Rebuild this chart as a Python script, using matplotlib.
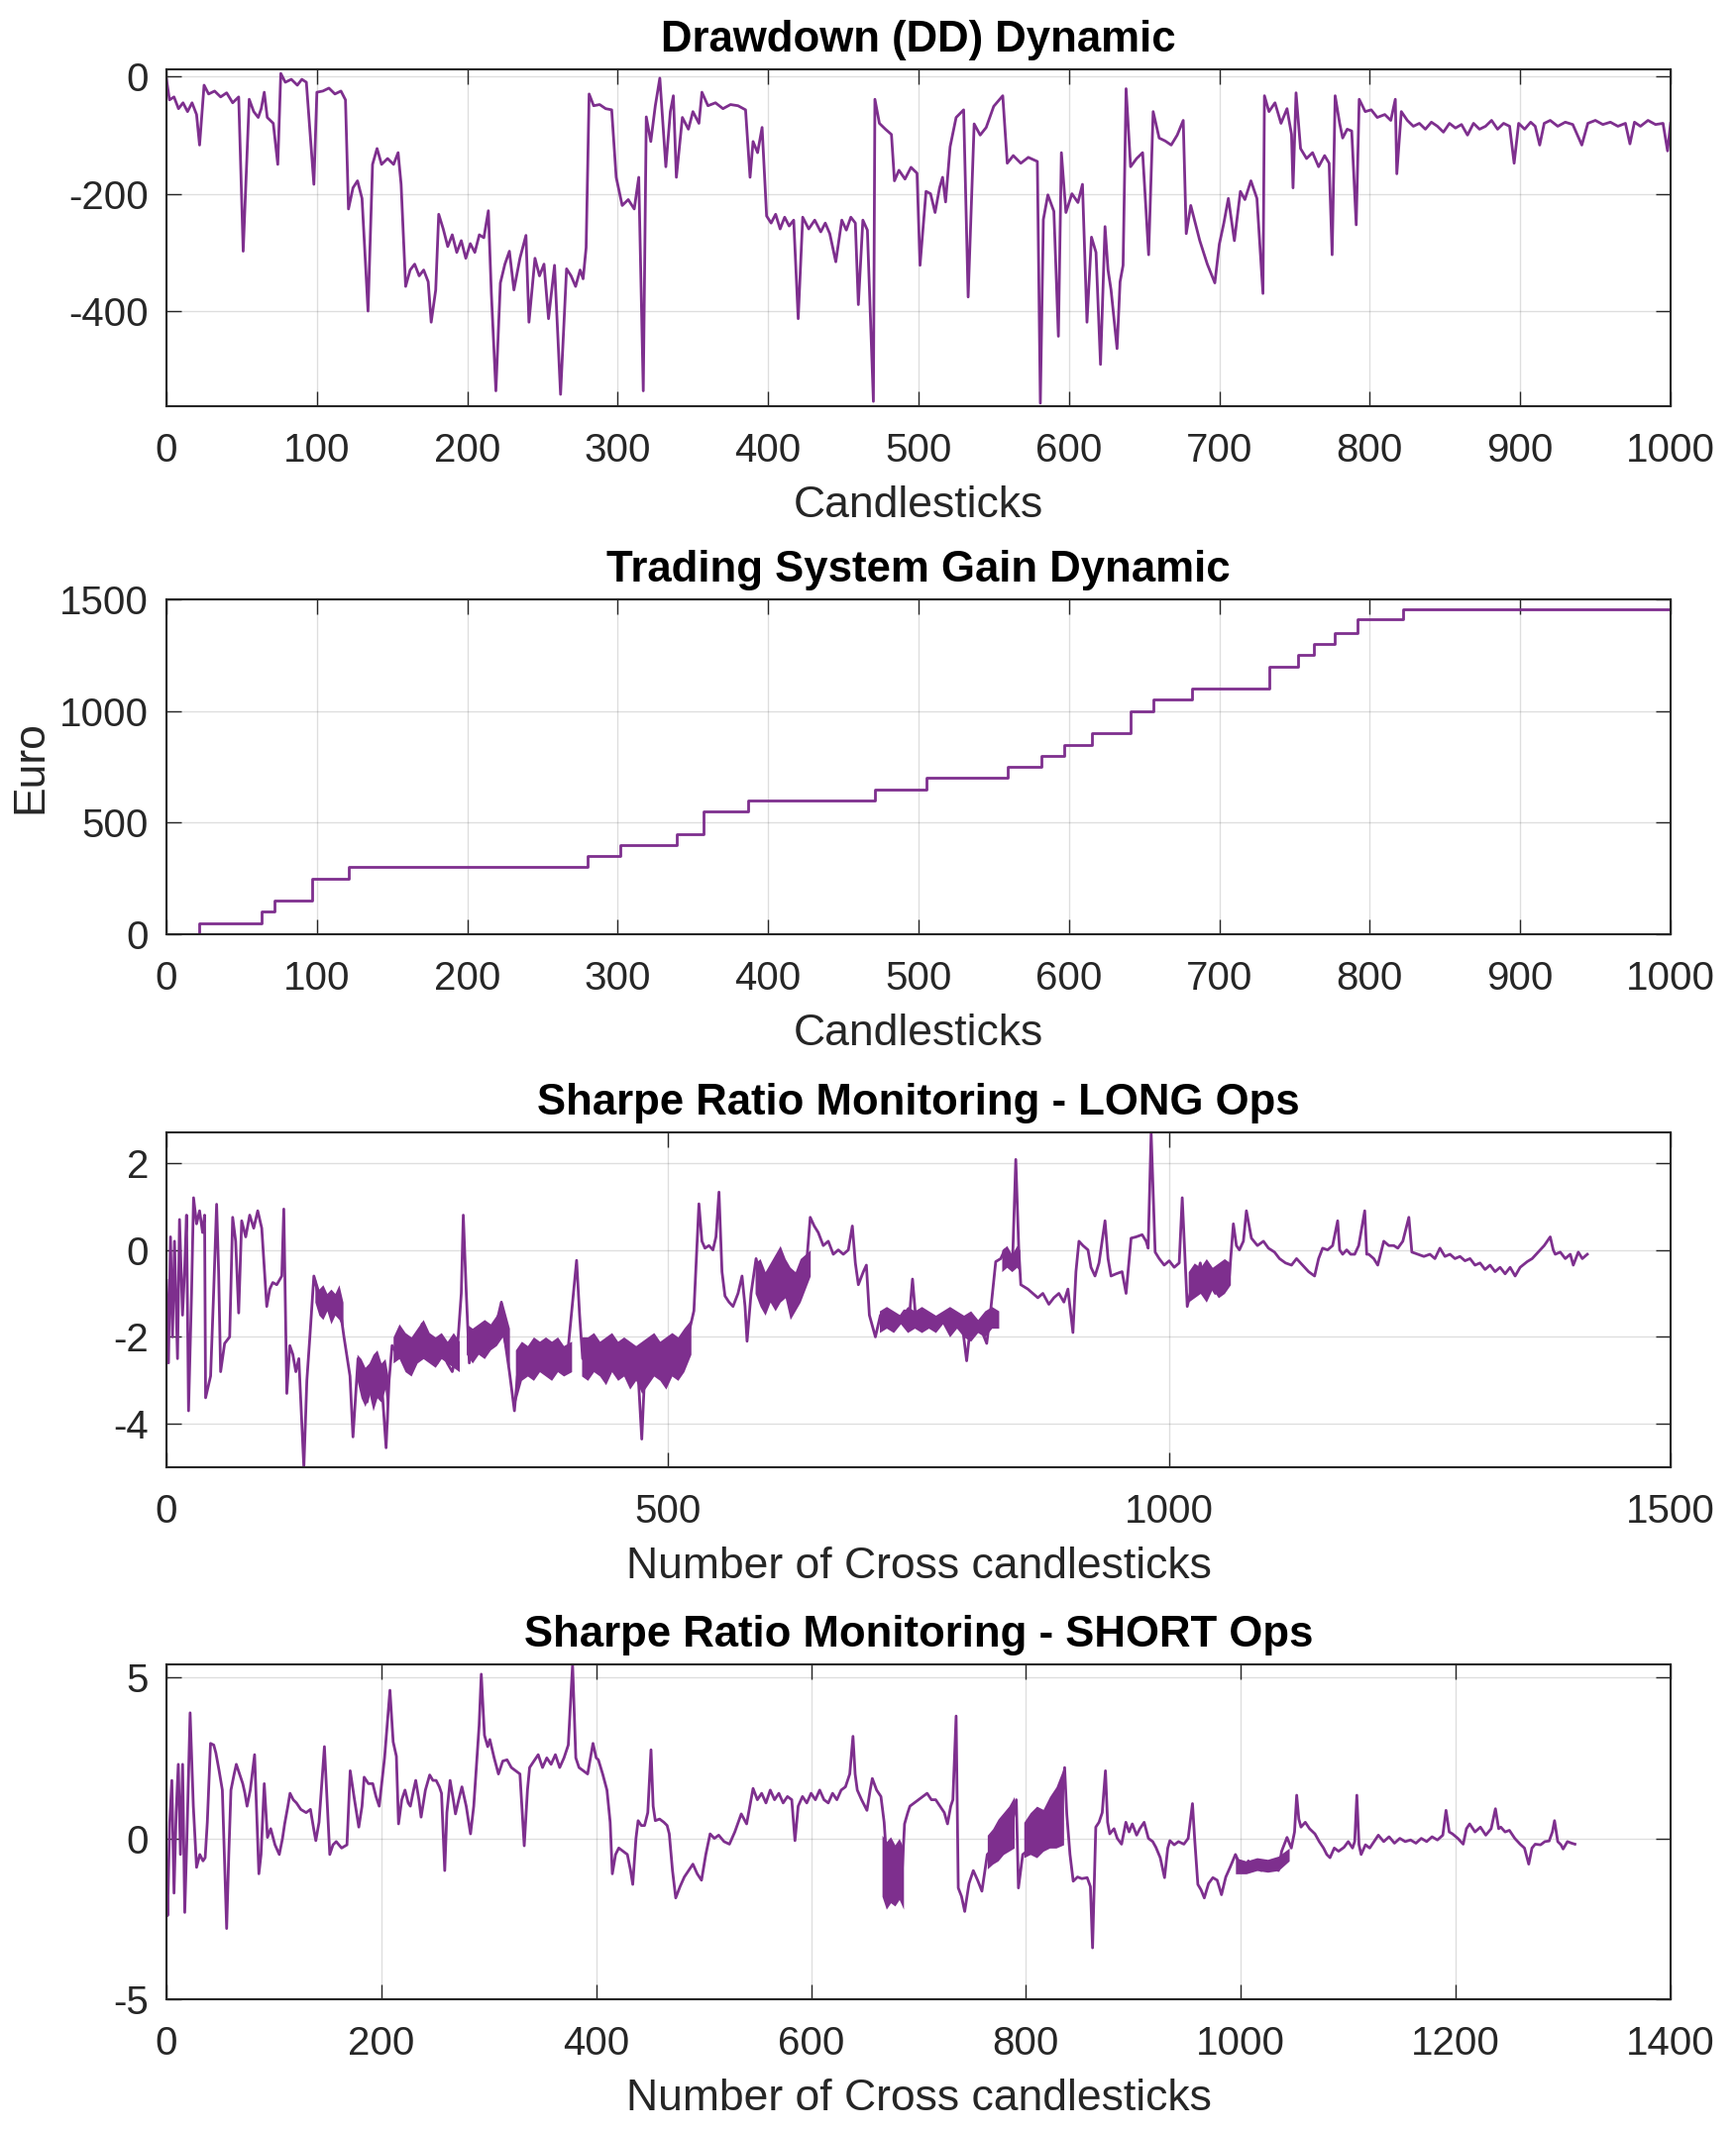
import numpy as np
import matplotlib
matplotlib.use("Agg")
import matplotlib.pyplot as plt

# Colors (MATLAB-like)
PURPLE = "#7E2F8E"
DARK = "#262626"

plt.rcParams["font.family"] = ["Liberation Sans", "DejaVu Sans"]
plt.rcParams["axes.unicode_minus"] = False

# ---------------------------------------------------------------------------
# Panel 1: Drawdown dynamic
# ---------------------------------------------------------------------------
dd_x = [0, 2, 5, 8, 11, 14, 17, 20, 22, 25, 28, 32, 36, 40, 44, 48, 51, 55, 58, 61,
        63, 65, 67, 71, 74, 76, 79, 83, 87, 90, 93, 98, 100, 104, 108, 112, 116, 119, 121, 124,
        127, 130, 134, 137, 140, 143, 147, 151, 154, 156, 159, 162, 165, 168, 171, 174, 176, 179, 181, 184,
        187, 190, 193, 196, 199, 202, 205, 208, 211, 214, 216, 219, 222, 225, 228, 231, 235, 239, 241, 245,
        248, 251, 254, 258, 262, 266, 269, 272, 275, 277, 279, 281, 284, 288, 292, 296, 299, 303, 307, 311,
        314, 317, 319, 322, 325, 328, 332, 335, 337, 339, 343, 347, 350, 354, 356, 360, 365, 370, 375, 380,
        385, 388, 390, 393, 396, 399, 402, 405, 408, 411, 414, 417, 420, 423, 427, 431, 435, 438, 441, 445,
        449, 452, 455, 458, 460, 463, 466, 470, 471, 474, 478, 482, 484, 487, 491, 495, 499, 501, 505, 508,
        511, 514, 516, 518, 521, 525, 530, 533, 537, 541, 545, 550, 556, 559, 563, 568, 573, 579, 581, 583,
        586, 590, 593, 595, 598, 602, 606, 609, 612, 615, 618, 621, 624, 626, 628, 632, 634, 636, 638, 641,
        645, 649, 653, 656, 660, 664, 668, 672, 676, 678, 681, 684, 687, 692, 697, 700, 703, 706, 710, 714,
        717, 721, 725, 729, 730, 733, 737, 741, 745, 748, 749, 751, 754, 758, 762, 766, 770, 773, 775, 777,
        780, 782, 785, 788, 791, 793, 797, 801, 805, 810, 814, 817, 818, 821, 825, 829, 833, 837, 841, 845,
        849, 853, 857, 861, 865, 869, 873, 877, 881, 885, 889, 893, 896, 899, 903, 907, 910, 913, 916, 920,
        925, 930, 935, 941, 945, 950, 955, 960, 965, 970, 973, 976, 980, 985, 990, 995, 998, 1000]
dd_y = [-5, -40, -35, -55, -45, -60, -45, -65, -117, -15, -30, -25, -35, -28, -45, -35, -298, -39, -60, -70,
        -55, -27, -70, -80, -150, 5, -10, -5, -15, -5, -10, -184, -27, -25, -20, -30, -25, -40, -226, -190,
        -178, -208, -400, -150, -123, -150, -140, -150, -130, -184, -358, -330, -320, -340, -330, -350, -419, -364, -235, -260,
        -290, -270, -300, -280, -310, -285, -300, -270, -275, -229, -370, -536, -352, -320, -298, -364, -310, -271, -419, -310,
        -340, -320, -413, -322, -542, -328, -340, -358, -330, -345, -292, -30, -50, -48, -55, -57, -172, -220, -210, -226,
        -172, -536, -69, -111, -50, -3, -154, -60, -33, -172, -70, -90, -60, -80, -27, -50, -45, -55, -48, -50,
        -57, -172, -111, -130, -87, -238, -250, -235, -260, -240, -255, -245, -413, -240, -260, -245, -265, -250, -268, -316,
        -245, -262, -240, -250, -389, -245, -262, -554, -39, -80, -90, -99, -178, -160, -175, -155, -165, -322, -196, -200,
        -232, -190, -172, -214, -120, -70, -57, -376, -81, -100, -87, -51, -33, -148, -135, -148, -138, -145, -557, -244,
        -202, -230, -443, -130, -232, -200, -215, -184, -419, -274, -300, -491, -256, -330, -364, -464, -350, -322, -21, -154,
        -140, -130, -304, -60, -105, -110, -117, -100, -75, -268, -220, -250, -280, -320, -352, -286, -250, -208, -280, -196,
        -210, -178, -208, -370, -33, -60, -45, -80, -55, -99, -190, -28, -123, -140, -130, -154, -135, -148, -304, -33,
        -80, -105, -90, -93, -253, -39, -60, -57, -70, -65, -75, -39, -166, -60, -75, -85, -80, -90, -78, -85,
        -95, -80, -88, -82, -100, -80, -90, -85, -75, -90, -80, -85, -148, -80, -90, -78, -85, -117, -80, -75,
        -85, -78, -82, -117, -80, -75, -82, -78, -85, -80, -115, -78, -85, -75, -82, -80, -127, -80]

# ---------------------------------------------------------------------------
# Panel 2: Trading system gain (step levels)
# ---------------------------------------------------------------------------
gain_x = [0, 22, 63, 72, 97, 121, 280, 302, 339, 357, 387, 471, 505, 559, 582, 597,
          615, 641, 656, 682, 733, 752, 763, 777, 792, 822, 1000]
gain_y = [0, 50, 100, 150, 250, 300, 350, 400, 450, 550, 600, 650, 700, 750, 800, 850,
          900, 1000, 1050, 1100, 1200, 1250, 1300, 1350, 1410, 1455, 1455]

# ---------------------------------------------------------------------------
# Panel 3: Sharpe ratio LONG ops
# ---------------------------------------------------------------------------
long_x = [0, 2, 4, 6, 8, 11, 13, 16, 18, 20, 22, 25, 27, 30, 33, 36, 38, 39, 44, 47,
          50, 52, 54, 58, 63, 66, 69, 72, 75, 79, 83, 87, 91, 95, 100, 103, 106, 110, 115, 117,
          120, 123, 126, 129, 132, 137, 140, 143, 147, 151, 155, 160, 165, 170, 174, 177, 183, 186, 191, 195,
          200, 205, 210, 215, 219, 222, 225, 230, 235, 240, 245, 250, 255, 260, 265, 270, 275, 280, 285, 290,
          294, 296, 299, 302, 305, 310, 315, 320, 325, 330, 334, 337, 342, 347, 350, 355, 360, 365, 370, 375,
          380, 385, 390, 395, 400, 405, 409, 412, 415, 420, 425, 430, 435, 440, 445, 450, 455, 460, 465, 470,
          474, 477, 482, 487, 492, 497, 502, 507, 512, 517, 522, 526, 531, 534, 537, 541, 545, 548, 551, 554,
          557, 561, 565, 570, 574, 577, 579, 583, 588, 592, 597, 602, 607, 612, 617, 622, 627, 632, 637, 642,
          646, 650, 655, 660, 665, 670, 675, 680, 684, 687, 690, 695, 698, 701, 707, 712, 718, 724, 730, 736,
          741, 744, 747, 752, 758, 764, 770, 776, 782, 788, 794, 798, 802, 807, 812, 818, 821, 827, 832, 836,
          840, 844, 847, 850, 852, 859, 864, 869, 874, 880, 885, 890, 895, 899, 904, 907, 910, 914, 919, 922,
          926, 930, 936, 939, 942, 947, 953, 957, 962, 967, 973, 977, 979, 982, 986, 990, 995, 1000, 1005, 1010,
          1013, 1018, 1022, 1027, 1031, 1036, 1041, 1046, 1050, 1055, 1060, 1064, 1067, 1070, 1074, 1077, 1082, 1088, 1094, 1099,
          1105, 1110, 1116, 1122, 1127, 1133, 1139, 1145, 1149, 1153, 1158, 1163, 1168, 1170, 1173, 1177, 1181, 1185, 1189, 1195,
          1197, 1199, 1204, 1208, 1214, 1219, 1224, 1228, 1233, 1239, 1242, 1248, 1254, 1260, 1265, 1270, 1275, 1280, 1285, 1290,
          1295, 1300, 1305, 1310, 1315, 1320, 1325, 1330, 1335, 1340, 1345, 1350, 1357, 1362, 1368, 1374, 1380, 1383, 1385, 1390,
          1395, 1400, 1403, 1408, 1412, 1417]
long_y = [-0.7, -2.6, 0.3, -2.0, 0.2, -2.5, 0.7, -1.5, -0.5, 0.8, -3.7, -1.0, 1.2, 0.6, 0.9, 0.4, 0.8, -3.4, -2.9, -1.0,
          1.05, -0.5, -2.8, -2.15, -2.0, 0.75, 0.2, -1.45, 0.67, 0.3, 0.8, 0.5, 0.9, 0.5, -1.3, -0.9, -0.75, -0.8, -0.6, 0.94,
          -3.3, -2.2, -2.4, -2.8, -2.5, -5.0, -3.0, -2.0, -0.6, -1.0, -1.4, -1.2, -1.5, -1.1, -1.5, -2.0, -2.9, -4.3, -2.5, -3.0,
          -3.5, -3.0, -2.7, -3.2, -4.55, -3.0, -2.2, -2.4, -2.0, -2.3, -2.6, -2.3, -1.7, -2.5, -2.3, -2.6, -2.3, -2.6, -2.8, -2.3,
          -1.0, 0.8, -1.0, -2.6, -2.0, -2.2, -1.9, -2.0, -1.8, -1.6, -1.2, -2.0, -2.8, -3.7, -2.9, -2.7, -2.6, -2.8, -2.5, -2.7,
          -2.6, -2.7, -2.6, -2.6, -2.4, -1.2, -0.24, -1.5, -2.5, -2.4, -2.7, -2.5, -2.4, -2.6, -2.5, -2.7, -2.5, -2.6, -2.8, -2.7,
          -4.35, -2.8, -2.6, -2.5, -2.7, -2.4, -2.6, -2.5, -2.4, -2.2, -1.8, -1.4, 1.06, 0.2, 0.04, 0.1, 0.0, 0.3, 1.33, -0.5,
          -1.06, -1.2, -1.3, -1.0, -0.6, -1.3, -2.1, -1.0, -0.2, -0.6, -0.9, -0.8, -1.0, -0.6, -1.0, -0.9, -1.2, -1.1, -0.7, 0.75,
          0.55, 0.4, 0.1, 0.2, -0.1, 0.0, -0.1, 0.0, 0.55, -0.3, -0.8, -0.5, -0.35, -1.5, -2.0, -1.5, -1.6, -1.5, -1.6, -1.4,
          -1.5, -0.67, -1.5, -1.6, -1.5, -1.7, -1.6, -1.5, -1.7, -1.6, -1.8, -2.55, -1.7, -1.6, -1.8, -2.15, -1.6, -0.27, -0.2, 0.0,
          -0.3, -0.1, 2.08, 0.0, -0.8, -0.9, -1.0, -1.1, -1.0, -1.25, -1.1, -1.0, -1.2, -0.9, -1.9, -0.5, 0.2, 0.1, 0.0, -0.4,
          -0.6, -0.3, 0.67, -0.2, -0.6, -0.55, -0.5, -1.0, 0.27, 0.3, 0.35, 0.2, 0.04, 2.7, -0.05, -0.2, -0.35, -0.25, -0.4, -0.3,
          1.2, -1.3, -0.9, -0.7, -0.3, -0.9, -0.8, -1.0, -0.4, -0.8, -0.6, 0.6, 0.1, 0.0, 0.2, 0.9, 0.27, 0.1, 0.2, 0.04,
          -0.05, -0.2, -0.3, -0.35, -0.2, -0.35, -0.5, -0.6, -0.2, 0.04, 0.0, 0.1, 0.67, 0.0, -0.1, 0.0, -0.1, -0.1, 0.1, 0.9,
          -0.1, -0.1, -0.2, -0.35, 0.2, 0.1, 0.1, 0.04, 0.2, 0.75, -0.05, -0.1, -0.15, -0.1, -0.2, 0.04, -0.15, -0.1, -0.2, -0.15,
          -0.25, -0.2, -0.35, -0.3, -0.45, -0.35, -0.5, -0.4, -0.55, -0.4, -0.6, -0.4, -0.27, -0.2, -0.05, 0.1, 0.3, 0.0, -0.1, -0.05,
          -0.2, -0.1, -0.35, -0.05, -0.2, -0.1]

# dense (solid-looking) stretches: x, lower envelope, upper envelope
long_band_x = [[148, 152, 156, 160, 164, 168, 172, 176],
               [190, 194, 198, 202, 206, 210, 214, 218, 221],
               [226, 232, 238, 244, 250, 256, 262, 268, 274, 280, 286, 292],
               [299, 305, 311, 317, 323, 329, 335, 342],
               [348, 354, 360, 366, 372, 378, 384, 390, 396, 404],
               [414, 420, 426, 432, 438, 444, 450, 456, 462, 468, 474, 480, 486, 492, 498, 504, 510, 516, 523],
               [587, 592, 597, 602, 607, 612, 617, 622, 627, 632, 637, 642],
               [711, 718, 725, 732, 739, 746, 753, 760, 767, 774, 781, 788, 795, 802, 809, 816, 823, 830],
               [833, 838, 843, 848, 851],
               [1019, 1025, 1031, 1037, 1043, 1049, 1055, 1061]]
long_band_lo = [[-1.2, -1.5, -1.6, -1.4, -1.7, -1.5, -1.6, -1.8],
                [-3.0, -3.4, -3.6, -3.3, -3.7, -3.4, -3.5, -3.2, -4.0],
                [-2.6, -2.5, -2.8, -2.9, -2.6, -2.5, -2.6, -2.7, -2.5, -2.6, -2.7, -2.8],
                [-2.4, -2.6, -2.4, -2.5, -2.3, -2.2, -2.0, -2.7],
                [-3.5, -3.0, -2.9, -3.0, -2.8, -2.9, -3.0, -2.8, -2.9, -2.8],
                [-2.9, -3.0, -2.8, -2.9, -3.1, -2.8, -3.0, -2.9, -3.2, -3.0, -3.3, -3.1, -2.9, -3.0, -3.2, -2.9, -3.0, -2.8, -2.4],
                [-1.0, -1.3, -1.5, -1.2, -1.4, -1.2, -1.1, -1.6, -1.4, -1.2, -0.9, -0.6],
                [-1.9, -1.8, -1.9, -1.7, -1.9, -1.8, -1.9, -1.8, -1.9, -1.7, -2.0, -1.8, -2.0, -2.1, -1.9, -2.0, -1.8, -1.8],
                [-0.5, -0.4, -0.5, -0.4, -0.5],
                [-1.2, -1.1, -1.0, -1.2, -0.9, -1.1, -1.0, -0.8]]
long_band_hi = [[-0.6, -0.9, -0.8, -1.0, -0.9, -1.0, -0.8, -1.2],
                [-2.4, -2.5, -2.7, -2.6, -2.4, -2.3, -2.6, -2.5, -2.9],
                [-2.0, -1.7, -1.9, -2.0, -1.8, -1.6, -1.9, -2.0, -1.9, -2.1, -1.9, -2.1],
                [-1.7, -1.8, -1.7, -1.6, -1.7, -1.5, -1.2, -1.8],
                [-2.3, -2.1, -2.2, -2.0, -2.1, -2.0, -2.1, -2.0, -2.2, -2.1],
                [-2.0, -2.0, -1.9, -2.1, -2.0, -1.9, -2.1, -2.0, -2.1, -2.2, -2.1, -2.0, -1.9, -2.1, -2.0, -1.9, -2.0, -1.8, -1.6],
                [-0.3, -0.2, -0.5, -0.3, -0.1, 0.1, -0.2, -0.4, -0.5, -0.2, -0.1, 0.0],
                [-1.4, -1.3, -1.4, -1.5, -1.3, -1.4, -1.3, -1.4, -1.5, -1.4, -1.3, -1.4, -1.5, -1.4, -1.6, -1.4, -1.3, -1.4],
                [0.0, 0.1, -0.1, 0.1, 0.0],
                [-0.5, -0.3, -0.4, -0.2, -0.4, -0.3, -0.2, -0.3]]

# ---------------------------------------------------------------------------
# Panel 4: Sharpe ratio SHORT ops
# ---------------------------------------------------------------------------
short_x = [0, 1, 3, 5, 7, 9, 11, 13, 15, 17, 19, 22, 25, 28, 31, 34, 36, 38, 41, 44,
           46, 49, 52, 56, 58, 60, 63, 65, 68, 71, 73, 75, 78, 82, 86, 88, 91, 94, 97, 101,
           105, 108, 110, 113, 115, 118, 121, 125, 130, 134, 137, 139, 142, 147, 150, 152, 155, 158, 163, 168,
           171, 175, 179, 182, 184, 188, 192, 195, 198, 203, 208, 211, 214, 216, 219, 222, 225, 227, 230, 232,
           235, 237, 241, 245, 248, 251, 254, 256, 259, 261, 264, 267, 269, 272, 275, 279, 283, 286, 288, 291,
           293, 296, 299, 301, 305, 309, 313, 317, 321, 325, 329, 333, 336, 338, 342, 346, 350, 354, 358, 362,
           366, 370, 374, 378, 381, 384, 388, 392, 397, 400, 402, 406, 410, 413, 415, 418, 421, 425, 429, 432,
           434, 437, 439, 442, 445, 448, 451, 453, 455, 459, 463, 466, 468, 471, 474, 478, 482, 486, 490, 494,
           498, 502, 506, 510, 514, 519, 524, 529, 535, 540, 543, 546, 550, 554, 558, 562, 566, 570, 574, 578,
           582, 585, 588, 592, 596, 600, 604, 608, 612, 616, 620, 624, 628, 632, 636, 639, 641, 643, 647, 652,
           655, 657, 661, 665, 668, 671, 676, 680, 684, 687, 690, 692, 696, 700, 704, 708, 712, 716, 720, 724,
           727, 730, 732, 735, 737, 740, 743, 747, 751, 755, 759, 764, 770, 776, 782, 788, 791, 793, 797, 805,
           815, 825, 832, 836, 838, 841, 844, 848, 852, 857, 860, 862, 865, 868, 871, 874, 876, 878, 882, 885,
           889, 893, 896, 899, 903, 906, 910, 914, 918, 921, 925, 929, 932, 934, 938, 942, 947, 951, 955, 957,
           960, 963, 966, 970, 974, 978, 982, 986, 990, 995, 999, 1003, 1007, 1011, 1015, 1019, 1023, 1027, 1031, 1035,
           1038, 1043, 1047, 1050, 1052, 1054, 1056, 1060, 1064, 1069, 1073, 1077, 1080, 1083, 1087, 1091, 1096, 1100, 1104, 1106,
           1108, 1110, 1112, 1116, 1120, 1124, 1128, 1133, 1138, 1143, 1148, 1153, 1158, 1163, 1168, 1173, 1178, 1183, 1188, 1191,
           1194, 1197, 1202, 1207, 1210, 1213, 1218, 1223, 1228, 1233, 1237, 1240, 1242, 1246, 1250, 1255, 1260, 1264, 1268, 1271,
           1274, 1279, 1283, 1287, 1290, 1292, 1295, 1298, 1300, 1304, 1308, 1311]
short_y = [-1.0, -2.4, 0.5, 1.8, -1.7, 0.8, 2.3, -0.5, 2.3, -2.3, 0.0, 3.9, 1.0, -0.9, -0.5, -0.7, -0.6, 0.5, 2.95, 2.9,
           2.65, 2.1, 1.5, -2.8, -0.5, 1.5, 2.0, 2.3, 2.0, 1.7, 1.4, 1.0, 1.5, 2.6, -1.1, -0.5, 1.7, 0.03, 0.3, -0.2,
           -0.5, 0.0, 0.45, 1.0, 1.4, 1.2, 1.1, 0.9, 0.8, 0.9, 0.3, -0.07, 0.5, 2.85, 0.8, -0.5, -0.2, -0.1, -0.3, -0.2,
           2.1, 1.2, 0.35, 1.0, 1.9, 1.7, 1.7, 1.3, 1.0, 2.5, 4.6, 3.0, 2.55, 0.45, 1.2, 1.5, 1.1, 1.0, 1.5, 1.8,
           1.2, 0.66, 1.5, 1.97, 1.8, 1.8, 1.6, 1.4, -1.0, 0.8, 1.8, 1.2, 0.76, 1.2, 1.6, 1.0, 0.14, 1.0, 2.0, 3.5,
           5.1, 3.2, 2.85, 3.07, 2.5, 2.0, 2.4, 2.44, 2.2, 2.1, 2.0, -0.23, 1.5, 2.2, 2.4, 2.6, 2.2, 2.5, 2.3, 2.6,
           2.2, 2.5, 2.9, 5.4, 2.5, 2.2, 2.1, 2.0, 2.95, 2.5, 2.44, 2.0, 1.5, 0.5, -1.1, -0.5, -0.3, -0.4, -0.5, -1.0,
           -1.43, 0.0, 0.55, 0.4, 0.4, 0.8, 2.75, 1.0, 0.55, 0.6, 0.5, 0.4, 0.14, -1.0, -1.85, -1.5, -1.2, -1.0, -0.8, -1.1,
           -1.3, -0.5, 0.14, 0.0, 0.1, -0.1, -0.18, 0.2, 0.76, 0.45, 1.0, 1.55, 1.2, 1.4, 1.1, 1.5, 1.2, 1.4, 1.1, 1.3,
           1.2, -0.07, 1.0, 1.3, 1.1, 1.4, 1.2, 1.5, 1.2, 1.1, 1.4, 1.2, 1.5, 1.6, 2.0, 3.17, 2.0, 1.5, 1.2, 0.87,
           1.5, 1.86, 1.5, 1.3, 0.5, -1.0, -1.2, -0.9, -1.5, 0.45, 0.8, 1.0, 1.1, 1.2, 1.3, 1.4, 1.2, 1.2, 1.0, 0.8,
           0.45, 1.0, 1.2, 3.8, -1.54, -1.8, -2.27, -1.4, -1.0, -1.3, -1.64, -0.5, -0.3, 0.0, 0.3, 0.6, 1.2, -1.54, -0.5, -0.3,
           0.0, 0.3, 0.6, 2.2, 0.76, -0.5, -1.33, -1.2, -1.25, -1.22, -1.5, -3.4, 0.35, 0.5, 0.8, 2.1, 0.5, 0.14, 0.3, 0.0,
           -0.18, 0.5, 0.2, 0.45, 0.1, 0.3, 0.5, 0.0, -0.1, -0.28, -0.6, -1.22, -0.3, -0.07, -0.2, -0.1, -0.18, 0.0, 1.08, 0.0,
           -1.43, -1.6, -1.85, -1.4, -1.22, -1.3, -1.75, -1.2, -0.9, -0.5, -0.8, -1.0, -0.7, -0.9, -0.8, -1.0, -0.7, -0.9, -0.75, -1.0,
           -0.4, 0.03, -0.3, 0.2, 1.34, 0.6, 0.35, 0.5, 0.3, 0.14, -0.1, -0.3, -0.5, -0.6, -0.3, -0.4, -0.28, -0.1, -0.3, -0.1,
           1.34, -0.2, -0.5, -0.2, -0.3, -0.1, 0.1, -0.1, 0.05, -0.15, 0.0, -0.1, -0.05, -0.15, 0.0, -0.1, 0.05, -0.05, 0.1, 0.87,
           0.2, 0.14, 0.0, -0.18, 0.3, 0.45, 0.2, 0.35, 0.1, 0.3, 0.92, 0.3, 0.35, 0.2, 0.25, 0.0, -0.18, -0.3, -0.8, -0.3,
           -0.18, -0.2, -0.1, -0.08, 0.2, 0.55, -0.1, -0.2, -0.33, -0.1, -0.15, -0.18]

short_band_x = [[666, 670, 674, 678, 682, 686],
                [764, 769, 774, 779, 784, 789],
                [798, 804, 810, 816, 822, 828, 835],
                [995, 1005, 1015, 1025, 1035, 1045]]
short_band_lo = [[-1.8, -2.2, -2.0, -2.1, -1.9, -2.2],
                 [-0.95, -0.8, -0.7, -0.5, -0.4, -0.3],
                 [-0.6, -0.5, -0.6, -0.4, -0.3, -0.3, -0.2],
                 [-1.1, -1.1, -1.0, -1.05, -1.0, -0.7]]
short_band_hi = [[0.1, -0.1, 0.05, -0.2, 0.0, -0.3],
                 [0.1, 0.3, 0.6, 0.8, 1.0, 1.3],
                 [0.5, 0.8, 1.0, 0.9, 1.3, 1.6, 2.2],
                 [-0.6, -0.7, -0.6, -0.65, -0.55, -0.3]]


def style_ax(ax, title, xlabel, xlim, xticks, ylim, yticks):
    ax.set_xlim(*xlim)
    ax.set_ylim(*ylim)
    ax.set_xticks(xticks)
    ax.set_yticks(yticks)
    ax.set_title(title, fontsize=31.5, fontweight="bold", color="black", pad=13)
    ax.set_xlabel(xlabel, fontsize=32, color=DARK, labelpad=11)
    ax.grid(True, color=DARK, alpha=0.15, linewidth=1.0)
    ax.set_axisbelow(True)
    for spine in ax.spines.values():
        spine.set_color(DARK)
        spine.set_linewidth(1.5)
    ax.tick_params(axis="both", direction="in", top=True, right=True,
                   length=11, width=1.0, color=DARK, labelcolor=DARK, labelsize=29)
    ax.tick_params(axis="x", pad=19)
    ax.tick_params(axis="y", pad=13)


fig = plt.figure(figsize=(17.52, 21.54), dpi=100)
left, width = 0.0959, 0.8664
ax1 = fig.add_axes([left, 0.8097, width, 0.1578])
ax2 = fig.add_axes([left, 0.5622, width, 0.1569])
ax3 = fig.add_axes([left, 0.3124, width, 0.1569])
ax4 = fig.add_axes([left, 0.0631, width, 0.1569])

# Drawdown
ax1.plot(dd_x, dd_y, color=PURPLE, linewidth=2.0)
style_ax(ax1, "Drawdown (DD) Dynamic", "Candlesticks", (0, 1000), range(0, 1001, 100),
         (-562, 12), [-400, -200, 0])

# Gain
ax2.plot(gain_x, gain_y, color=PURPLE, linewidth=2.0, drawstyle="steps-post")
style_ax(ax2, "Trading System Gain Dynamic", "Candlesticks", (0, 1000), range(0, 1001, 100),
         (0, 1500), [0, 500, 1000, 1500])
ax2.set_ylabel("Euro", fontsize=32, color=DARK, labelpad=6)

# Sharpe LONG
ax3.plot(long_x, long_y, color=PURPLE, linewidth=2.0)
for bx, lo, hi in zip(long_band_x, long_band_lo, long_band_hi):
    ax3.fill_between(bx, lo, hi, color=PURPLE, linewidth=0)
style_ax(ax3, "Sharpe Ratio Monitoring - LONG Ops", "Number of Cross candlesticks",
         (0, 1500), [0, 500, 1000, 1500], (-5, 2.7), [-4, -2, 0, 2])

# Sharpe SHORT
ax4.plot(short_x, short_y, color=PURPLE, linewidth=2.0)
for bx, lo, hi in zip(short_band_x, short_band_lo, short_band_hi):
    ax4.fill_between(bx, lo, hi, color=PURPLE, linewidth=0)
style_ax(ax4, "Sharpe Ratio Monitoring - SHORT Ops", "Number of Cross candlesticks",
         (0, 1400), range(0, 1401, 200), (-5, 5.4), [-5, 0, 5])

fig.savefig("out.png", dpi=100, facecolor="white")
